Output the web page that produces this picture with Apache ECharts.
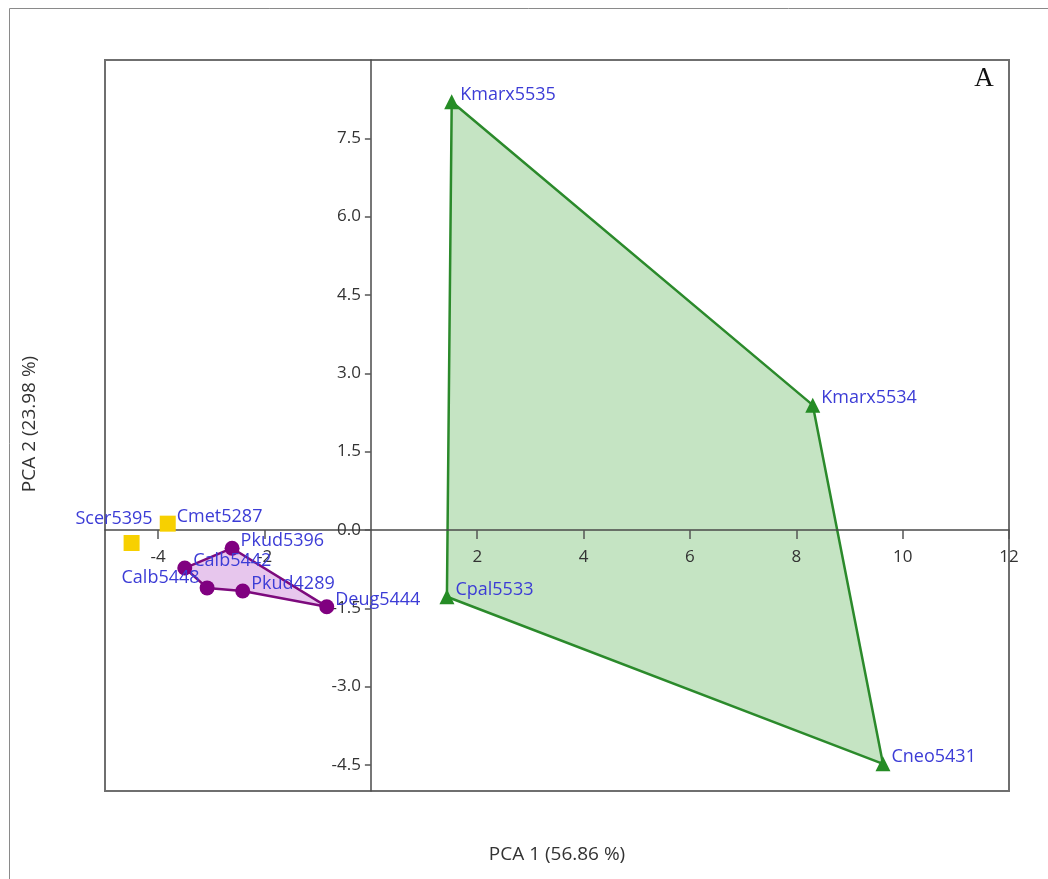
<!DOCTYPE html>
<html>
<head>
<meta charset="utf-8">
<title>PCA</title>
<script src="https://cdn.jsdelivr.net/npm/echarts@6/dist/echarts.min.js"></script>
<style>
  html, body { margin: 0; padding: 0; background: #ffffff; }
  #chart { width: 1048px; height: 879px; }
</style>
</head>
<body>
<div id="chart"></div>
<script>
// Tick labels on both axes
const xTicks = [-4, -2, 2, 4, 6, 8, 10, 12];
const yTicks = [-4.5, -3, -1.5, 0, 1.5, 3, 4.5, 6, 7.5];

// Group 1 (triangles), listed in hull order
const greenNames = ['Kmarx5535', 'Kmarx5534', 'Cneo5431', 'Cpal5533'];
const greenPC1 = [1.52, 8.31, 9.63, 1.43];
const greenPC2 = [8.20, 2.39, -4.48, -1.28];

// Group 2 (circles), listed in hull order
const purpleNames = ['Calb5442', 'Pkud5396', 'Deug5444', 'Pkud4289', 'Calb5448'];
const purplePC1 = [-3.50, -2.61, -0.83, -2.41, -3.08];
const purplePC2 = [-0.73, -0.35, -1.47, -1.17, -1.11];

// Group 3 (squares)
const yellowNames = ['Scer5395', 'Cmet5287'];
const yellowPC1 = [-4.50, -3.82];
const yellowPC2 = [-0.25, 0.12];

const xTitle = 'PCA 1 (56.86 %)';
const yTitle = 'PCA 2 (23.98 %)';
const panelTag = 'A';

const labelBlue = '#3c3cd6';
const labelFont = '"Open Sans", "Noto Sans", sans-serif';

// labels placed on the left of their marker
const leftLabels = {
  Scer5395: { position: 'left', distance: 0, offset: [29, -24] },
  Calb5448: { position: 'left', distance: 0, offset: [0, -10] }
};

function points(names, xs, ys) {
  return names.map((n, i) => {
    const item = { name: n, value: [xs[i], ys[i]] };
    if (leftLabels[n]) item.label = leftLabels[n];
    return item;
  });
}

const hulls = [
  { xs: greenPC1, ys: greenPC2, stroke: '#2b8a2b', fill: 'rgba(150, 205, 145, 0.55)' },
  { xs: purplePC1, ys: purplePC2, stroke: '#7d0a7d', fill: 'rgba(215, 160, 225, 0.6)' }
];

const pointLabel = {
  show: true,
  position: 'right',
  distance: 0,
  offset: [1, -7],
  formatter: '{b}',
  color: labelBlue,
  fontFamily: labelFont,
  fontSize: 18
};

const chart = echarts.init(document.getElementById('chart'), null, { renderer: 'canvas' });

chart.setOption({
  animation: false,
  backgroundColor: '#ffffff',
  grid: {
    left: 105, right: 39, top: 60, bottom: 88,
    show: true,
    borderColor: '#6f6f6f',
    borderWidth: 2,
    backgroundColor: 'transparent'
  },
  xAxis: {
    type: 'value',
    position: 'bottom',
    z: 2,
    min: -5, max: 12,
    axisLine: { show: true, onZero: false, lineStyle: { color: '#4a4a4a', width: 1.5 } },
    axisTick: { show: true, length: 9, customValues: xTicks, lineStyle: { color: '#555', width: 1.5 } },
    axisLabel: {
      customValues: xTicks,
      showMinLabel: true, showMaxLabel: true,
      margin: 19,
      color: '#333', fontFamily: labelFont, fontSize: 17
    },
    splitLine: { show: false }
  },
  yAxis: {
    type: 'value',
    position: 'left',
    z: 2,
    min: -5, max: 9,
    axisLine: { show: true, onZero: false, lineStyle: { color: '#4a4a4a', width: 1.5 } },
    axisTick: { show: true, length: 6, customValues: yTicks, lineStyle: { color: '#555', width: 1.5 } },
    axisLabel: {
      customValues: yTicks,
      margin: 10,
      formatter: v => v.toFixed(1),
      color: '#333', fontFamily: labelFont, fontSize: 17
    },
    splitLine: { show: false }
  },
  graphic: [
    { type: 'line', shape: { x1: 9.5, y1: 8.5, x2: 1048, y2: 8.5 }, style: { stroke: '#8a8a8a', lineWidth: 1 }, silent: true },
    { type: 'line', shape: { x1: 9.5, y1: 8.5, x2: 9.5, y2: 879 }, style: { stroke: '#8a8a8a', lineWidth: 1 }, silent: true },
    { type: 'text', x: 984, y: 79, style: { text: panelTag, fill: '#111', font: '27px "Liberation Serif", "DejaVu Serif", serif', align: 'center', verticalAlign: 'middle' }, silent: true },
    { type: 'text', x: 557, y: 855, style: { text: xTitle, fill: '#333', font: '19px "Open Sans", "Noto Sans", sans-serif', align: 'center', verticalAlign: 'middle' }, silent: true },
    { type: 'text', x: 30, y: 424, rotation: Math.PI / 2, style: { text: yTitle, fill: '#333', font: '19px "Open Sans", "Noto Sans", sans-serif', align: 'center', verticalAlign: 'middle' }, silent: true }
  ],
  series: [
    {
      type: 'custom',
      silent: true,
      z: 1,
      data: hulls.map((h, i) => [h.xs[0], h.ys[0], i]),
      renderItem: function (params, api) {
        const h = hulls[params.dataIndex];
        const pts = h.xs.map((x, i) => api.coord([x, h.ys[i]]));
        return {
          type: 'polygon',
          shape: { points: pts },
          style: { fill: h.fill, stroke: h.stroke, lineWidth: 2.5, lineJoin: 'round' }
        };
      }
    },
    {
      type: 'scatter',
      name: 'group1',
      z: 3,
      symbol: 'triangle',
      symbolSize: 15,
      itemStyle: { color: '#258c25', opacity: 1 },
      label: pointLabel,
      data: points(greenNames, greenPC1, greenPC2)
    },
    {
      type: 'scatter',
      name: 'group2',
      z: 3,
      symbol: 'circle',
      symbolSize: 15,
      itemStyle: { color: '#800080', opacity: 1 },
      label: pointLabel,
      data: points(purpleNames, purplePC1, purplePC2)
    },
    {
      type: 'scatter',
      name: 'group3',
      z: 3,
      symbol: 'rect',
      symbolSize: 16,
      itemStyle: { color: '#f7d000', opacity: 1 },
      label: pointLabel,
      data: points(yellowNames, yellowPC1, yellowPC2)
    }
  ]
});

// Move both axes so they cross at the origin: the offset is the pixel
// distance between the grid edge and the zero value on the other axis.
const origin = chart.convertToPixel({ gridIndex: 0 }, [0, 0]);
const corner = chart.convertToPixel({ gridIndex: 0 }, [-5, -5]);
chart.setOption({
  xAxis: { offset: -(corner[1] - origin[1]) },
  yAxis: { offset: -(origin[0] - corner[0]) }
});
</script>
</body>
</html>
